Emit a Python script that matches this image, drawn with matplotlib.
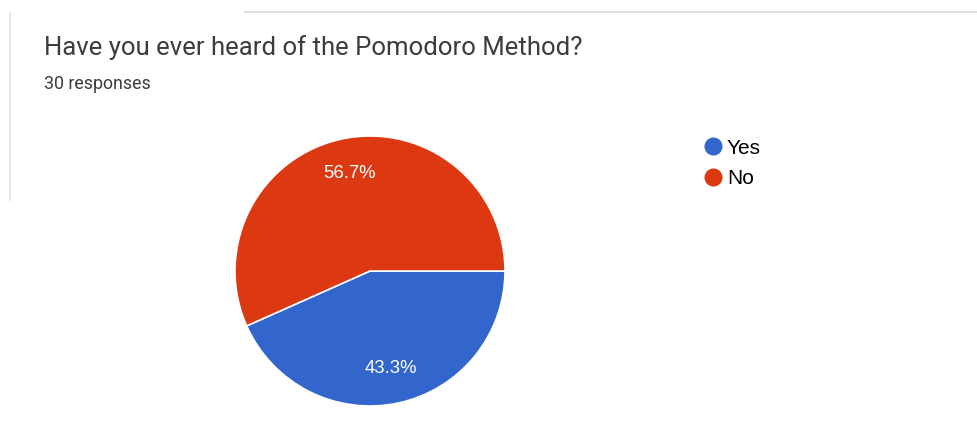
import matplotlib.pyplot as plt
from matplotlib.lines import Line2D

# survey answers
answers = ["Yes", "No"]
counts = [13, 17]
colors = ["#3366cc", "#dc3912"]
question = "Have you ever heard of the Pomodoro Method?"
total = sum(counts)

W, H = 977, 430
fig = plt.figure(figsize=(W / 100, H / 100), dpi=100)

# faint card borders
fig.add_artist(Line2D([245 / W, 1.0], [1 - 12 / H, 1 - 12 / H], color="#d8d8d8", lw=1.2))
fig.add_artist(Line2D([10 / W, 10 / W], [1 - 12 / H, 1 - 200 / H], color="#e2e2e2", lw=1.2))

fig.text(44 / W, 1 - 48 / H, question, fontsize=18.5, family="Roboto",
         color="#3c3c3c", va="center", ha="left")
fig.text(44 / W, 1 - 84 / H, f"{total} responses", fontsize=12.8, family="Roboto",
         color="#3c3c3c", va="center", ha="left")

# pie: centre (370, 271), radius 135 px
cx, cy, r = 370, 271, 135
ax = fig.add_axes([(cx - r) / W, (H - cy - r) / H, 2 * r / W, 2 * r / H])
wedges, texts, autotexts = ax.pie(
    counts, colors=colors, startangle=0, counterclock=False,
    autopct="%1.1f%%", pctdistance=0.74,
    wedgeprops=dict(edgecolor="white", linewidth=1.2),
    textprops=dict(color="white", fontsize=13.3, family="Liberation Sans"),
)
ax.set_xlim(-1, 1)
ax.set_ylim(-1, 1)
ax.set_aspect("equal")
ax.axis("off")

handles = [Line2D([], [], marker="o", ls="", markersize=12, color=c) for c in colors]
fig.legend(handles, answers, loc="upper left", bbox_to_anchor=(682 / W, 1 - 120 / H),
           frameon=False, handletextpad=0.05, labelspacing=0.56, handlelength=1.2,
           prop=dict(family="Liberation Sans", size=15))

fig.savefig("out.png", dpi=100)
